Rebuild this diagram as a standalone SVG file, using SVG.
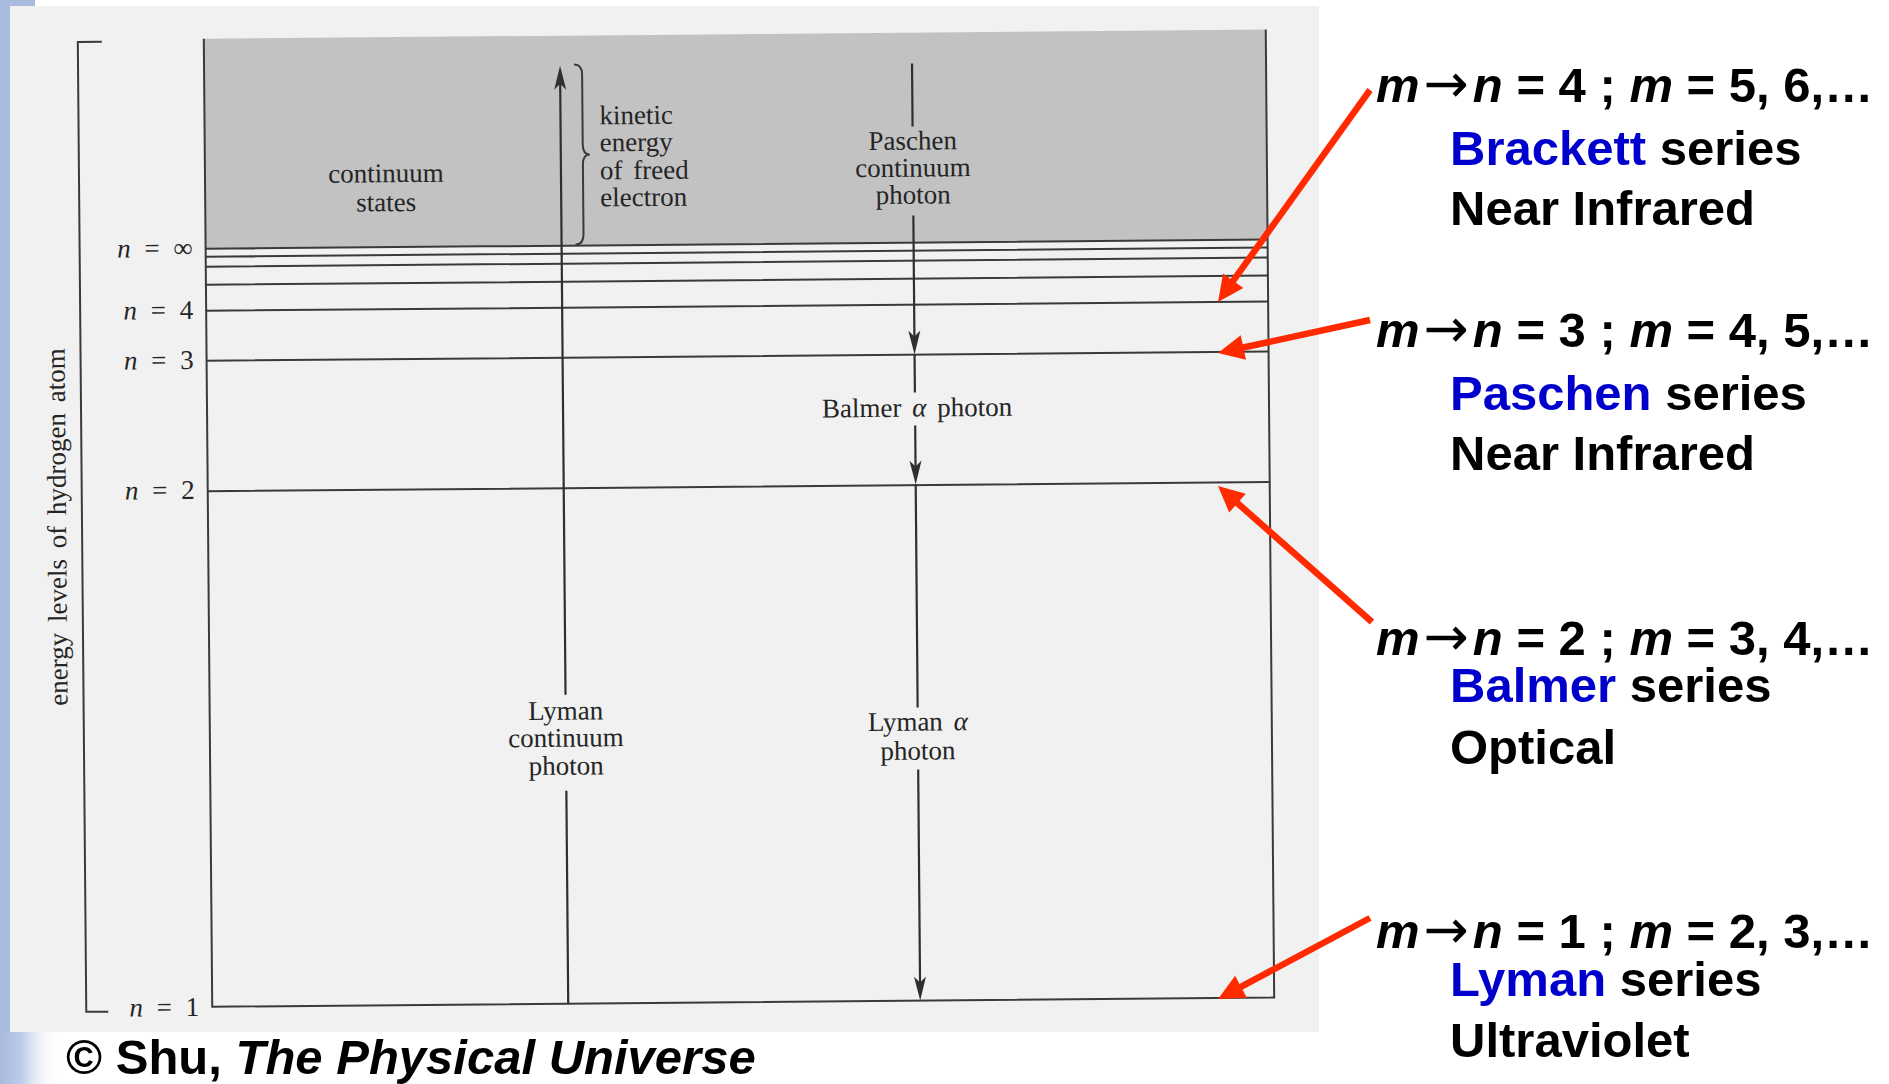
<svg xmlns="http://www.w3.org/2000/svg" width="1889" height="1084" viewBox="0 0 1889 1084">
<defs>
<style>
.sc{font-family:"Liberation Serif","Times New Roman",serif;font-size:27px;fill:#252525;word-spacing:4px}
.it{font-style:italic}
.lvl{stroke:#3a3a3a;stroke-width:2;fill:none}
.tr{stroke:#2f2f2f;stroke-width:2.2;fill:none}
.sl{font-family:"Liberation Sans",Arial,sans-serif;font-weight:bold;font-size:49px;fill:#000}
.ar{font-family:"DejaVu Sans",sans-serif;font-weight:normal;font-style:normal;font-size:54px}
.bl{fill:#0000cc}
.red{stroke:#ff2a00;stroke-width:6.5;fill:none;marker-end:url(#rd)}
</style>
<linearGradient id="blueFade" x1="0" x2="1" y1="0" y2="0">
<stop offset="0" stop-color="#a7b9de"/><stop offset="0.35" stop-color="#bccbe8"/><stop offset="1" stop-color="#ffffff" stop-opacity="0"/>
</linearGradient>
<marker id="bk" markerUnits="userSpaceOnUse" viewBox="-26 -8 28 16" refX="-10" refY="0" markerWidth="28" markerHeight="16" orient="auto">
<path d="M0,0 L-24,-6 L-18,0 L-24,6 z" fill="#2f2f2f"/>
</marker>
<marker id="rd" markerUnits="userSpaceOnUse" viewBox="-28 -14 30 28" refX="-20" refY="0" markerWidth="30" markerHeight="28" orient="auto">
<path d="M0,0 L-26,-12.5 L-26,12.5 z" fill="#ff2a00"/>
</marker>
</defs>
<rect x="0" y="0" width="1889" height="1084" fill="#ffffff"/>
<g id="decoration">
<rect x="10" y="6" width="1309" height="1026" fill="#f1f1f1"/>
<rect x="0" y="0" width="10" height="1084" fill="#a9bbdf"/>
<rect x="0" y="0" width="35" height="6" fill="#a9bbdf"/>
<rect x="0" y="1032" width="60" height="52" fill="url(#blueFade)"/>
</g>
<g id="scan" transform="rotate(-0.5 640 520)">
<g id="continuum">
<rect x="208" y="35" width="1062" height="210" fill="#c2c2c2"/>
<text class="sc" x="389" y="180" text-anchor="middle">continuum</text>
<text class="sc" x="389" y="209" text-anchor="middle">states</text>
</g>
<g id="box"><path class="lvl" d="M208,35 V1003 H1270 V35"/></g>
<g id="levels">
<path class="lvl" d="M208,245 H1270 M208,253 H1270 M208,263 H1270 M208,281 H1270 M208,307 H1270 M208,357 H1270 M208,487.5 H1270"/>
</g>
<g id="axis">
<path class="lvl" d="M106,37 H82 V1007 H104"/>
<text class="sc" transform="rotate(-90 66 522)" x="66" y="522" text-anchor="middle">energy levels of hydrogen atom</text>
</g>
<g id="level-labels" class="sc" text-anchor="end">
<text x="195" y="253" style="word-spacing:7px"><tspan class="it">n</tspan> = ∞</text>
<text x="195" y="315" style="word-spacing:7px"><tspan class="it">n</tspan> = 4</text>
<text x="195" y="365" style="word-spacing:7px"><tspan class="it">n</tspan> = 3</text>
<text x="195" y="495" style="word-spacing:7px"><tspan class="it">n</tspan> = 2</text>
<text x="195" y="1012" style="word-spacing:7px"><tspan class="it">n</tspan> = 1</text>
</g>
<g id="kinetic">
<path class="lvl" d="M578,64 Q586,64 586,74 V144 Q586,154 593,154 Q586,154 586,164 V234 Q586,244 578,244"/>
<text class="sc" x="603" y="124">kinetic</text>
<text class="sc" x="603" y="151">energy</text>
<text class="sc" x="603" y="179">of freed</text>
<text class="sc" x="603" y="206">electron</text>
</g>
<g id="transition-labels" class="sc" text-anchor="middle">
<text x="916" y="152">Paschen</text>
<text x="916" y="179">continuum</text>
<text x="916" y="206">photon</text>
<text x="918" y="419">Balmer <tspan class="it">α</tspan> photon</text>
<text x="564" y="719">Lyman</text>
<text x="564" y="746">continuum</text>
<text x="564" y="774">photon</text>
<text x="916" y="733">Lyman <tspan class="it">α</tspan></text>
<text x="916" y="762">photon</text>
</g>
<g id="transitions">
<path class="tr" d="M564,1003 V790"/>
<path class="tr" d="M564,694 V75" marker-end="url(#bk)"/>
<path class="tr" d="M916,66 V129"/>
<path class="tr" d="M916,218 V347" marker-end="url(#bk)"/>
<path class="tr" d="M916,357 V395"/>
<path class="tr" d="M916,428 V477" marker-end="url(#bk)"/>
<path class="tr" d="M916,487 V710"/>
<path class="tr" d="M916,772 V993" marker-end="url(#bk)"/>
</g>
</g>
<g id="brackett" class="sl">
<text x="1376" y="102"><tspan class="it">m</tspan><tspan class="ar" dx="4">→</tspan><tspan class="it" dx="4">n</tspan> = 4 ; <tspan class="it">m</tspan> = 5, 6,…</text>
<text x="1450" y="165"><tspan class="bl">Brackett</tspan> series</text>
<text x="1450" y="225">Near Infrared</text>
</g>
<g id="paschen" class="sl">
<text x="1376" y="347"><tspan class="it">m</tspan><tspan class="ar" dx="4">→</tspan><tspan class="it" dx="4">n</tspan> = 3 ; <tspan class="it">m</tspan> = 4, 5,…</text>
<text x="1450" y="410"><tspan class="bl">Paschen</tspan> series</text>
<text x="1450" y="470">Near Infrared</text>
</g>
<g id="balmer" class="sl">
<text x="1376" y="655"><tspan class="it">m</tspan><tspan class="ar" dx="4">→</tspan><tspan class="it" dx="4">n</tspan> = 2 ; <tspan class="it">m</tspan> = 3, 4,…</text>
<text x="1450" y="702"><tspan class="bl">Balmer</tspan> series</text>
<text x="1450" y="764">Optical</text>
</g>
<g id="lyman" class="sl">
<text x="1376" y="948"><tspan class="it">m</tspan><tspan class="ar" dx="4">→</tspan><tspan class="it" dx="4">n</tspan> = 1 ; <tspan class="it">m</tspan> = 2, 3,…</text>
<text x="1450" y="996"><tspan class="bl">Lyman</tspan> series</text>
<text x="1450" y="1057">Ultraviolet</text>
</g>
<g id="connectors">
<line class="red" x1="1370" y1="90" x2="1229.7" y2="285.7"/>
<line class="red" x1="1370" y1="320" x2="1237.5" y2="348.8"/>
<line class="red" x1="1372" y1="622" x2="1233" y2="499.2"/>
<line class="red" x1="1370" y1="918" x2="1235.7" y2="989.6"/>
</g>
<g id="credit">
<text class="sl" x="66" y="1074">© Shu, <tspan class="it">The Physical Universe</tspan></text>
</g>
</svg>
